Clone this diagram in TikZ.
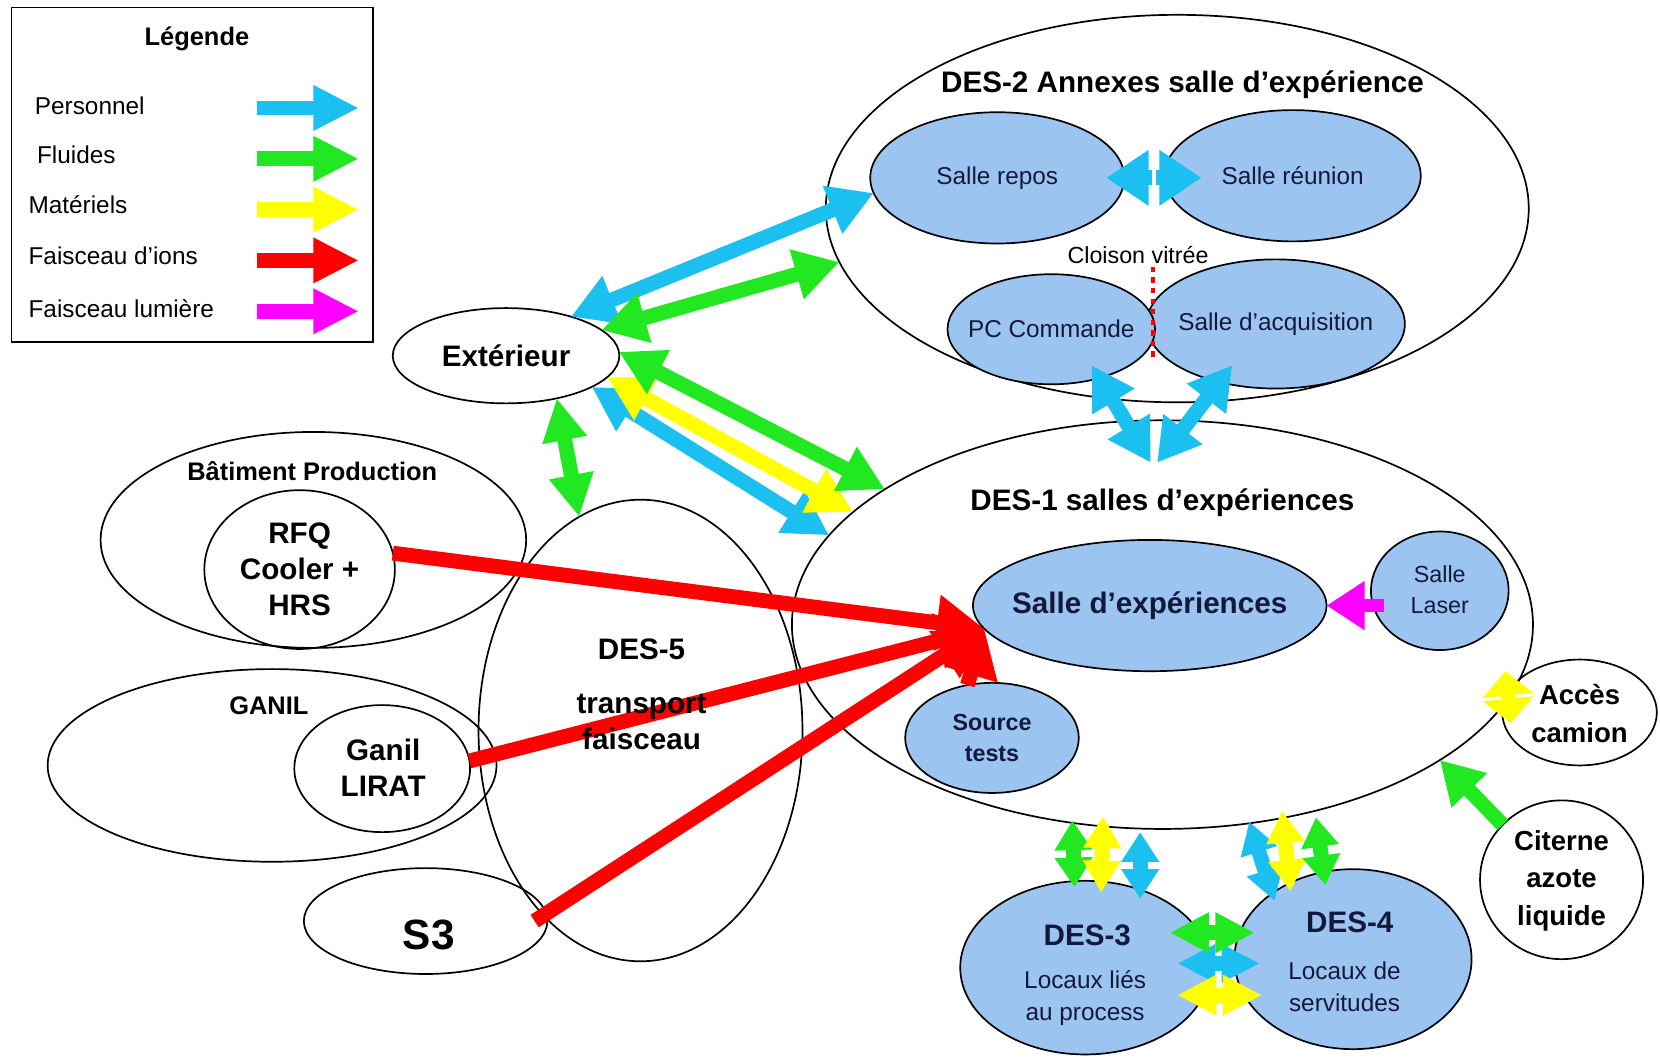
\documentclass[tikz,border=0pt]{standalone}
\usepackage{fontspec}
\setmainfont{Liberation Sans}
\usetikzlibrary{shapes.geometric,arrows.meta}
\definecolor{cyA}{RGB}{28,192,240}
\definecolor{grA}{RGB}{34,232,34}
\definecolor{yeA}{RGB}{255,255,0}
\definecolor{reA}{RGB}{255,0,0}
\definecolor{maA}{RGB}{255,0,255}
\definecolor{roomblue}{RGB}{155,196,240}
\definecolor{navy}{RGB}{20,24,60}
\tikzset{
  ell/.style={ellipse, draw=black, line width=1.6pt, inner sep=0pt, outer sep=0pt},
  room/.style={ell, fill=roomblue},
  fl/.style={line width=14pt, draw=#1},
  one/.style 2 args={arrows={-Triangle[length=#1,width=#2]}},
  txt/.style={inner sep=0pt, outer sep=0pt, align=center},
  b40/.style={txt, font=\fontsize{40}{46}\selectfont\bfseries},
  b28/.style={txt, font=\fontsize{28}{34}\selectfont\bfseries},
  b27/.style={txt, font=\fontsize{26}{35}\selectfont\bfseries},
  b24/.style={txt, font=\fontsize{24}{30}\selectfont\bfseries},
  b22/.style={txt, font=\fontsize{22}{29}\selectfont\bfseries},
  r23/.style={txt, font=\fontsize{23}{30}\selectfont},
  r22/.style={txt, font=\fontsize{22}{30}\selectfont},
}
% double-headed block arrow: colour, head length, head width, end A, end B
\newcommand\dblarr[5]{%
  \path (#4) -- (#5) coordinate[pos=.5] (dmid);
  \draw[fl=#1, one={#2}{#3}, shorten <=-2pt] (dmid) -- (#4);
  \draw[fl=#1, one={#2}{#3}, shorten <=-2pt] (dmid) -- (#5);}
\begin{document}
\begin{tikzpicture}[x=1pt,y=-1pt]
\useasboundingbox (0,0) rectangle (1568,1002);
\fill[white] (0,0) rectangle (1568,1002);

% ---------- legend ----------
\node[draw=black, line width=1.6pt, inner sep=0pt, outer sep=0pt,
      minimum width=341pt, minimum height=316pt, anchor=north west] (legend) at (11,7) {};
\node[b24] (legt) at (186,37) {Légende};
\node[r23, anchor=west] (lt1) at (33,100) {Personnel};
\node[r23, anchor=west] (lt2) at (35,146) {Fluides};
\node[r23, anchor=west] (lt3) at (27,193) {Matériels};
\node[r23, anchor=west] (lt4) at (27,242) {Faisceau d’ions};
\node[r23, anchor=west] (lt5) at (27,292) {Faisceau lumière};
\coordinate (la1) at (243,102); \coordinate (lb1) at (339,102);
\coordinate (la2) at (243,150); \coordinate (lb2) at (339,150);
\coordinate (la3) at (243,198); \coordinate (lb3) at (339,198);
\coordinate (la4) at (243,246); \coordinate (lb4) at (339,246);
\coordinate (la5) at (243,294); \coordinate (lb5) at (339,294);
\draw[fl=cyA, one={43pt}{40pt}] (la1) -- (lb1);
\draw[fl=grA, one={43pt}{40pt}] (la2) -- (lb2);
\draw[fl=yeA, one={43pt}{40pt}] (la3) -- (lb3);
\draw[fl=reA, one={43pt}{40pt}] (la4) -- (lb4);
\draw[fl=maA, one={43pt}{40pt}] (la5) -- (lb5);

% ---------- outlines ----------
\node[ell, minimum width=664pt, minimum height=366pt] (des2) at (1112,197) {};
\node[ell, minimum width=214pt, minimum height=90pt] (ext) at (478,336) {};
\node[ell, minimum width=402pt, minimum height=204pt] (bp) at (296,510) {};
\node[ell, minimum width=180pt, minimum height=150pt] (rfq) at (283,538) {};
\node[ell, minimum width=424pt, minimum height=182pt] (ganil) at (257,723) {};
\node[ell, minimum width=166pt, minimum height=120pt] (lirat) at (361,726) {};
\node[ell, minimum width=230pt, minimum height=100pt] (s3) at (402,870) {};
\node[ell, minimum width=306pt, minimum height=436pt] (des5) at (605,690) {};
\node[ell, minimum width=700pt, minimum height=386pt] (des1) at (1098,590) {};
\node[ell, minimum width=146pt, minimum height=100pt] (acces) at (1492,673) {};
\node[ell, minimum width=154pt, minimum height=150pt] (citerne) at (1475,831) {};

% ---------- rooms ----------
\node[room, minimum width=240pt, minimum height=124pt] (repos) at (942,168) {};
\node[room, minimum width=242pt, minimum height=124pt] (reunion) at (1221,166) {};
\node[room, minimum width=244pt, minimum height=122pt] (acq) at (1205,306) {};
\node[room, minimum width=196pt, minimum height=104pt] (pc) at (993,311) {};
\node[room, minimum width=334pt, minimum height=124pt] (sexp) at (1086,572) {};
\node[room, minimum width=130pt, minimum height=112pt] (laser) at (1360,558) {};
\node[room, minimum width=164pt, minimum height=104pt] (src) at (937,697) {};
\node[room, minimum width=236pt, minimum height=164pt] (des3) at (1025,914) {};
\node[room, minimum width=224pt, minimum height=170pt] (des4) at (1278,906) {};

% glass partition
\coordinate (cl1) at (1089,252); \coordinate (cl2) at (1089,342);
\draw[reA, line width=4pt, dash pattern=on 5pt off 5pt] (cl1) -- (cl2);

% ---------- arrows ----------
\dblarr{cyA}{42pt}{46pt}{ext.31}{repos.187}
\dblarr{grA}{42pt}{46pt}{ext.15}{des2.189}
\dblarr{cyA}{42pt}{44pt}{ext.-20}{des1.165}
\dblarr{yeA}{42pt}{44pt}{ext.-12}{des1.160}
\dblarr{grA}{42pt}{44pt}{ext.2}{des1.154}
\dblarr{grA}{40pt}{40pt}{ext.-40}{des5.106}

\coordinate (rrm) at (1090,168);
\draw[fl=cyA, one={40pt}{50pt}] ([xshift=-2pt]rrm) -- ([xshift=-45pt]rrm);
\draw[fl=cyA, one={40pt}{50pt}] ([xshift=2pt]rrm) -- ([xshift=45pt]rrm);

\coordinate (pcx) at ([shift={(38,34)}]pc.center);
\coordinate (acx) at ([shift={(-41,39)}]acq.center);
\coordinate (d1l) at ([shift={(-11,40)}]des1.north);
\coordinate (d1r) at ([shift={(-5,40)}]des1.north);
\dblarr{cyA}{40pt}{44pt}{pcx}{d1l}
\dblarr{cyA}{40pt}{44pt}{acx}{d1r}

\coordinate (lzs) at (sexp.east -| laser.west);
\draw[fl=maA, line width=12pt, one={36pt}{44pt}] ([xshift=12pt]lzs) -- (sexp.east);

\coordinate (rtip) at (sexp.188);
\draw[fl=reA, one={45pt}{50pt}] (rfq.10) -- (rtip);
\draw[fl=reA, one={45pt}{50pt}] (lirat.5) -- (rtip);
\draw[fl=reA, one={45pt}{50pt}] ([xshift=-12pt]s3.east) -- (rtip);
\draw[fl=reA, one={45pt}{50pt}] (src.115) -- (rtip);

\draw[fl=grA, one={40pt}{44pt}] (citerne.137) -- (des1.-26);

\coordinate (ysa) at (1422,634);
\coordinate (ysb) at (1427,683);
\dblarr{yeA}{23pt}{47pt}{ysa}{ysb}

\coordinate (g3a) at (1013,775); \coordinate (g3b) at (1015,838);
\coordinate (y3a) at (1042,771); \coordinate (y3b) at (1040,843);
\coordinate (c3a) at (1077,786); \coordinate (c3b) at (1077,849);
\coordinate (c4a) at (1180,776); \coordinate (c4b) at (1204,851);
\coordinate (y4a) at (1211,766); \coordinate (y4b) at (1219,842);
\coordinate (g4a) at (1243,772); \coordinate (g4b) at (1252,836);
\dblarr{grA}{28pt}{34pt}{g3a}{g3b}
\dblarr{yeA}{30pt}{34pt}{y3a}{y3b}
\dblarr{cyA}{28pt}{34pt}{c3a}{c3b}
\dblarr{cyA}{30pt}{34pt}{c4a}{c4b}
\dblarr{yeA}{30pt}{34pt}{y4a}{y4b}
\dblarr{grA}{28pt}{34pt}{g4a}{g4b}

\coordinate (hca) at (1112,910); \coordinate (hcb) at (1190,910);
\coordinate (hga) at (1105,881); \coordinate (hgb) at (1185,881);
\coordinate (hya) at (1112,940); \coordinate (hyb) at (1192,940);
\dblarr{cyA}{36pt}{34pt}{hca}{hcb}
\dblarr{grA}{37pt}{36pt}{hga}{hgb}
\dblarr{yeA}{37pt}{36pt}{hya}{hyb}

% ---------- texts ----------
\node[b28] (des2t) at (1117,80) {DES-2 Annexes salle d’expérience};
\node[r23, text=navy] (repost) at (942,168) {Salle repos};
\node[r23, text=navy] (reuniont) at (1221,166) {Salle réunion};
\node[r22] (cloisont) at (1075,241) {Cloison vitrée};
\node[r23, text=navy] (pct) at (993,311) {PC Commande};
\node[r23, text=navy] (acqt) at (1205,306) {Salle d’acquisition};
\node[b28] (extt) at (478,336) {Extérieur};
\node[b24] (bpt) at (295,445) {Bâtiment Production};
\node[b28] (rfqt) at (283,538) {RFQ\\Cooler +\\HRS};
\node[b24] (ganilt) at (254,667) {GANIL};
\node[b28] (liratt) at (362,725) {Ganil\\LIRAT};
\node[b40] (s3t) at (405,883) {S3};
\node[b28] (des5t) at (606,613) {DES-5};
\node[b28] (des5s) at (606,682) {transport\\faisceau};
\node[b28] (des1t) at (1098,475) {DES-1 salles d’expériences};
\node[b28, text=navy] (sexpt) at (1086,572) {Salle d’expériences};
\node[r22, text=navy] (lasert) at (1360,557) {Salle\\Laser};
\node[b22, text=navy] (srct) at (937,697) {Source\\tests};
\node[b27] (accest) at (1492,674) {Accès\\camion};
\node[b27] (citernet) at (1475,832) {Citerne\\azote\\liquide};
\node[b28, text=navy] (des3t) at (1027,883) {DES-3};
\node[r23, text=navy] (des3s) at (1025,943) {Locaux liés\\au process};
\node[b28, text=navy] (des4t) at (1275,871) {DES-4};
\node[r23, text=navy] (des4s) at (1270,932) {Locaux de\\servitudes};
\end{tikzpicture}
\end{document}
